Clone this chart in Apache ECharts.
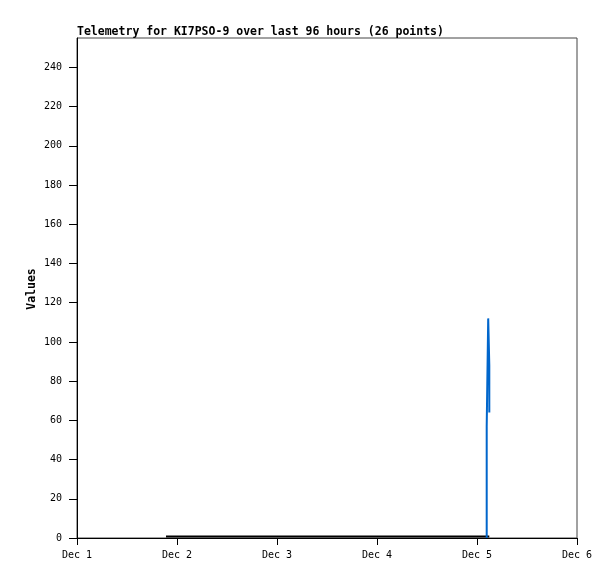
<!DOCTYPE html>
<html>
<head>
<meta charset="utf-8">
<script src="https://cdn.jsdelivr.net/npm/echarts@6/dist/echarts.min.js"></script>
<style>html,body{margin:0;padding:0;background:#fff}#c{width:615px;height:579px}</style>
</head>
<body>
<div id="c"></div>
<script>
// Data (times as day offsets from Dec 1 00:00)
var titleText = 'Telemetry for KI7PSO-9 over last 96 hours (26 points)';
var yAxisName = 'Values';
var xTickLabels = ['Dec 1', 'Dec 2', 'Dec 3', 'Dec 4', 'Dec 5', 'Dec 6'];
var yTicks = [0, 20, 40, 60, 80, 100, 120, 140, 160, 180, 200, 220, 240];
var blackTimes = [0.89, 1.05, 1.2, 1.4, 1.6, 1.8, 2.0, 2.2, 2.4, 2.6, 2.8, 3.0, 3.2, 3.4, 3.6, 3.8, 3.95, 4.05, 4.1, 4.123];
var blackValues = [0.8, 0.8, 0.8, 0.8, 0.8, 0.8, 0.8, 0.8, 0.8, 0.8, 0.8, 0.8, 0.8, 0.8, 0.8, 0.8, 0.8, 0.8, 0.8, 0.8];
var blueTimes = [4.097, 4.097, 4.112, 4.112, 4.123, 4.123];
var blueValues = [0, 57, 57, 112, 88, 64];

var blackData = blackTimes.map(function (t, i) { return [t, blackValues[i]]; });
var blueData = blueTimes.map(function (t, i) { return [t, blueValues[i]]; });

var mono = 'DejaVu Sans Mono';
var chart = echarts.init(document.getElementById('c'), null, { renderer: 'canvas' });
chart.setOption({
  animation: false,
  backgroundColor: '#fff',
  title: {
    text: titleText,
    left: 77, top: 26, padding: 0,
    textStyle: { fontFamily: mono, fontWeight: 'bold', fontSize: 11.5, color: '#000' }
  },
  graphic: [{
    type: 'text', x: 32, y: 289, rotation: Math.PI / 2,
    style: { text: yAxisName, align: 'center', verticalAlign: 'middle', font: 'bold 11.5px "DejaVu Sans Mono"', fill: '#000' }
  }],
  grid: { left: 77, right: 38, top: 38, bottom: 41, show: true, borderColor: '#444', borderWidth: 1, containLabel: false },
  xAxis: {
    type: 'value',
    min: 0, max: 5, interval: 1,
    splitLine: { show: false },
    axisLine: { onZero: false, lineStyle: { color: '#000', width: 1 } },
    axisTick: { show: true, inside: false, length: 7, lineStyle: { color: '#000' } },
    axisLabel: {
      fontFamily: mono, fontSize: 10, color: '#000', margin: 12,
      formatter: function (v) { return xTickLabels[Math.round(v)]; }
    }
  },
  yAxis: {
    type: 'value',
    min: 0, max: 255,
    splitLine: { show: false },
    axisLine: { show: true, onZero: false, lineStyle: { color: '#000', width: 1 } },
    axisTick: { show: true, inside: false, length: 8, lineStyle: { color: '#000' }, customValues: yTicks },
    axisLabel: { customValues: yTicks, fontFamily: mono, fontSize: 10, color: '#000', margin: 15 }
  },
  series: [
    {
      type: 'line', data: blackData, showSymbol: false,
      lineStyle: { color: '#000', width: 2 }, z: 2
    },
    {
      type: 'line', data: blueData, showSymbol: false,
      lineStyle: { color: '#0066cc', width: 2 }, z: 3
    }
  ]
});
</script>
</body>
</html>
